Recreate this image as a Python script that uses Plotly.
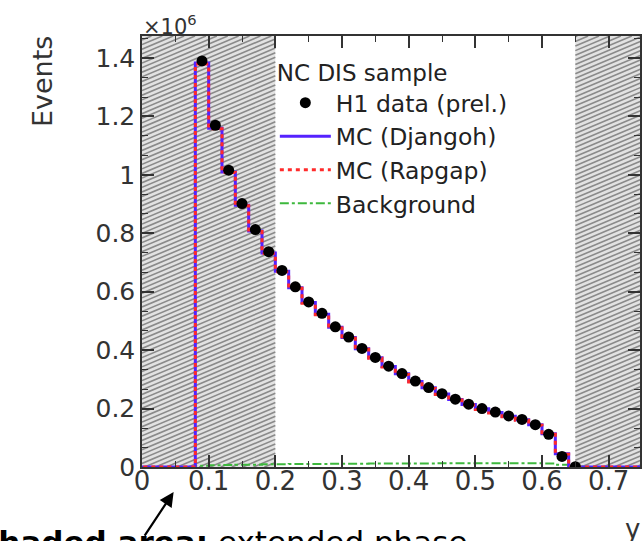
import numpy as np
import plotly.graph_objects as go

# ---------------- data (events in units of 10^6) ----------------
bin_width = 0.02
bin_centers = [0.09, 0.11, 0.13, 0.15, 0.17, 0.19, 0.21, 0.23, 0.25, 0.27,
               0.29, 0.31, 0.33, 0.35, 0.37, 0.39, 0.41, 0.43, 0.45, 0.47,
               0.49, 0.51, 0.53, 0.55, 0.57, 0.59, 0.61, 0.63, 0.65]
h1_data = [1.390, 1.170, 1.016, 0.902, 0.813, 0.737, 0.673, 0.617, 0.565, 0.526,
           0.480, 0.445, 0.406, 0.375, 0.345, 0.320, 0.294, 0.272, 0.251, 0.232,
           0.215, 0.200, 0.188, 0.175, 0.163, 0.145, 0.112, 0.036, 0.001]
mc_djangoh = [1.383, 1.160, 1.010, 0.896, 0.808, 0.733, 0.670, 0.614, 0.563, 0.523,
              0.478, 0.443, 0.405, 0.374, 0.344, 0.319, 0.293, 0.271, 0.250, 0.231,
              0.214, 0.199, 0.187, 0.174, 0.162, 0.145, 0.114, 0.045, 0.0]
mc_rapgap = [1.380, 1.158, 1.008, 0.894, 0.806, 0.731, 0.668, 0.612, 0.561, 0.521,
             0.476, 0.441, 0.403, 0.372, 0.342, 0.317, 0.291, 0.269, 0.248, 0.229,
             0.212, 0.197, 0.185, 0.172, 0.160, 0.143, 0.112, 0.044, 0.0]
background = [0.004, 0.006, 0.007, 0.008, 0.008, 0.009, 0.009, 0.010, 0.010, 0.010,
              0.011, 0.011, 0.011, 0.012, 0.012, 0.012, 0.012, 0.012, 0.013, 0.013,
              0.013, 0.013, 0.013, 0.013, 0.013, 0.013, 0.012, 0.008, 0.002]
data_err = [0.0012, 0.0011, 0.0010, 0.0010, 0.0009, 0.0009, 0.0008, 0.0008, 0.0008, 0.0007,
            0.0007, 0.0007, 0.0006, 0.0006, 0.0006, 0.0006, 0.0005, 0.0005, 0.0005, 0.0005,
            0.0005, 0.0004, 0.0004, 0.0004, 0.0004, 0.0004, 0.0003, 0.0002, 0.0001]

x_tick_vals = [0, 0.1, 0.2, 0.3, 0.4, 0.5, 0.6, 0.7]
x_tick_text = ["0", "0.1", "0.2", "0.3", "0.4", "0.5", "0.6", "0.7"]
y_tick_vals = [0, 0.2, 0.4, 0.6, 0.8, 1.0, 1.2, 1.4]
y_tick_text = ["0", "0.2", "0.4", "0.6", "0.8", "1", "1.2", "1.4"]
shaded_regions = [(0.0, 0.2), (0.65, 0.80)]

X_RANGE = [0.0, 0.747]
Y_RANGE = [0.0, 1.4755]

# ---------------- layout geometry ----------------
W, H = 642, 541
M_L, M_R, M_T, M_B = 141.5, 0, 36, 74.3
plot_w = W - M_L - M_R
plot_h = H - M_T - M_B
px_x = plot_w / (X_RANGE[1] - X_RANGE[0])
px_y = plot_h / (Y_RANGE[1] - Y_RANGE[0])

FONT = "DejaVu Sans"


def step_xy(values):
    edges = [c - bin_width / 2 for c in bin_centers] + [bin_centers[-1] + bin_width / 2]
    xs = [X_RANGE[0] - 0.01] + edges + [0.9]
    ys = [0.0] + list(values) + [0.0, 0.0]
    return xs, ys


def py_to_paper(py):
    return (H - M_B - py) / plot_h


def px_to_paper(px):
    return (px - M_L) / plot_w


# hatch lines for the shaded regions
slope_px = 0.42
m = slope_px * px_x / px_y
spacing = 4.6 / px_y
hx, hy = [], []
for (a, b) in shaded_regions:
    b = min(b, X_RANGE[1] + 0.01)
    c = -m * (b - a)
    while c < Y_RANGE[1]:
        xs0 = max(a, a + (Y_RANGE[0] - c) / m)
        xs1 = min(b, a + (Y_RANGE[1] - c) / m)
        if xs1 > xs0:
            hx += [xs0, xs1, None]
            hy += [c + m * (xs0 - a), c + m * (xs1 - a), None]
        c += spacing

fig = go.Figure()

shapes = []
for (a, b) in shaded_regions:
    shapes.append(dict(type="rect", xref="x", yref="y", x0=a, x1=b, y0=Y_RANGE[0], y1=Y_RANGE[1],
                       fillcolor="#e2e2e2", line=dict(width=0), layer="below"))

fig.add_trace(go.Scatter(x=hx, y=hy, mode="lines", line=dict(color="#8a8a8a", width=1.6),
                         showlegend=False, hoverinfo="skip"))

bx, by = step_xy(background)
fig.add_trace(go.Scatter(x=bx, y=by, mode="lines", line_shape="hv", name="Background",
                         line=dict(color="#3db83d", width=2, dash="dashdot"), legendrank=4))
dx, dy = step_xy(mc_djangoh)
fig.add_trace(go.Scatter(x=dx, y=dy, mode="lines", line_shape="hv", name="MC (Djangoh)",
                         line=dict(color="#5522ff", width=3), legendrank=2))
rx, ry = step_xy(mc_rapgap)
fig.add_trace(go.Scatter(x=rx, y=ry, mode="lines", line_shape="hv", name="MC (Rapgap)",
                         line=dict(color="#ff2b2b", width=3, dash="4px,4px"), legendrank=3))
fig.add_trace(go.Scatter(x=bin_centers, y=h1_data, mode="markers", name="H1 data (prel.)",
                         marker=dict(color="black", size=11),
                         error_y=dict(type="data", array=data_err, color="black", thickness=1.5, width=0),
                         legendrank=1))

axis_common = dict(showgrid=False, zeroline=False, showline=True, linecolor="#333333", linewidth=1.5,
                   mirror="ticks", ticks="inside", ticklen=12, tickwidth=1.5, tickcolor="#333333")

fig.update_layout(
    width=W, height=H,
    margin=dict(l=M_L, r=M_R, t=M_T, b=M_B, pad=0),
    paper_bgcolor="white", plot_bgcolor="white",
    font=dict(family=FONT, color="#222222"),
    shapes=shapes,
    xaxis=dict(range=X_RANGE, tickvals=x_tick_vals, ticktext=x_tick_text,
               tickfont=dict(family=FONT, size=26, color="#333333"), ticklabelstandoff=-10,
               minor=dict(dtick=0.05, tick0=0, ticks="inside", ticklen=6, tickwidth=1.2, tickcolor="#333333"),
               **axis_common),
    yaxis=dict(range=Y_RANGE, tickvals=y_tick_vals, ticktext=y_tick_text,
               tickfont=dict(family=FONT, size=25, color="#333333"),
               minor=dict(dtick=0.2 / 3, tick0=0, ticks="inside", ticklen=6, tickwidth=1.2, tickcolor="#333333"),
               **axis_common),
    legend=dict(x=px_to_paper(275), y=py_to_paper(51), xanchor="left", yanchor="top",
                bgcolor="rgba(0,0,0,0)",
                font=dict(family=FONT, size=23.5, color="#222222"),
                title=dict(text="NC DIS sample", font=dict(family=FONT, size=23, color="#222222")),
                tracegroupgap=0, itemwidth=51),
    annotations=[
        dict(text="×10<sup>6</sup>", xref="paper", yref="paper", x=-0.002, y=1.0, xanchor="left",
             yanchor="bottom", yshift=-5, showarrow=False, font=dict(family=FONT, size=21, color="#333333")),
        dict(text="Events", xref="paper", yref="paper", x=px_to_paper(41), y=py_to_paper(82),
             xanchor="center", yanchor="middle",
             textangle=-90, showarrow=False, font=dict(family=FONT, size=27, color="#333333")),
        dict(text="y", xref="paper", yref="paper", x=px_to_paper(634), y=py_to_paper(512),
             xanchor="center", yanchor="top", showarrow=False,
             font=dict(family=FONT, size=26, color="#333333")),
        dict(text="<b>Shaded area:</b> extended phase", xref="paper", yref="paper",
             x=px_to_paper(471), y=py_to_paper(522), xanchor="right", yanchor="top",
             showarrow=False, font=dict(family=FONT, size=31, color="black")),
        dict(text="", xref="paper", yref="paper", x=px_to_paper(173.3), y=py_to_paper(491.7),
             ax=-30, ay=45, showarrow=True, arrowhead=2, arrowsize=1.3, arrowwidth=2.2, arrowcolor="black"),
    ],
)

fig.write_html("out.html")
